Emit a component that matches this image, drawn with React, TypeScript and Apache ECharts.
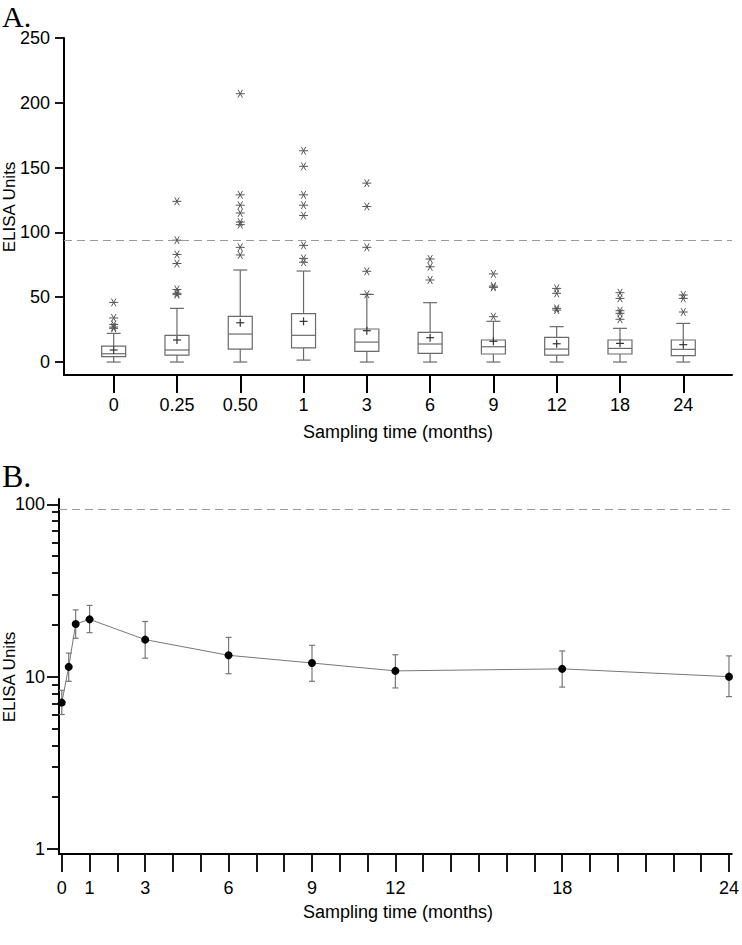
import React, { useEffect, useRef } from 'react';
import * as echarts from 'echarts';

// ---------- Panel A: box plots ----------
const categoriesA = ['0', '0.25', '0.50', '1', '3', '6', '9', '12', '18', '24'];
const whiskerLowA = [0, 0, 0, 1.5, 0, 0, 0, 0, 0, 0];
const q1A = [4.1, 5.4, 10, 11, 8.2, 6.7, 6.2, 5.4, 6.2, 4.9];
const medianA = [6.4, 9.3, 21.6, 20.6, 15.4, 13.9, 11.8, 10, 10.5, 9.8];
const q3A = [12.3, 20.6, 35.2, 37.3, 25.5, 22.9, 17, 19, 17, 17];
const whiskerHighA = [22.1, 41.4, 71, 70.2, 52.2, 45.8, 31.4, 27.3, 26, 29.8];
const meanA = [9.3, 17, 30.3, 31.4, 24.2, 18.8, 16, 14.1, 14.4, 13.4];
const outliersA = [
  [46, 34, 29, 27, 26],
  [124, 94, 83, 76, 56, 53, 52],
  [207, 129, 121, 115, 108, 106, 88.5, 82.6],
  [163, 151, 129, 121, 113, 90, 80, 77],
  [138, 120, 88.5, 70, 52.2],
  [79.5, 73.5, 63.3],
  [68, 58.6, 57.6, 35],
  [56.8, 53, 41.4, 40.1],
  [53.5, 49.1, 39.6, 37.6, 33],
  [51.7, 49.1, 38.6],
];
const yTicksA = [0, 50, 100, 150, 200, 250];

// ---------- Panel B: geometric means with CI ----------
const monthsB = [0, 0.25, 0.5, 1, 3, 6, 9, 12, 18, 24];
const gmB = [7.07, 11.4, 20.2, 21.5, 16.4, 13.3, 12.0, 10.8, 11.1, 10.0];
const upperB = [8.33, 13.7, 24.4, 25.9, 20.9, 16.9, 15.2, 13.4, 14.1, 13.2];
const lowerB = [6.03, 9.4, 16.7, 18.0, 12.8, 10.4, 9.4, 8.6, 8.7, 7.66];
const xLabelsB = [0, 1, 3, 6, 9, 12, 18, 24];
const xTicksB = [0, 1, 2, 3, 4, 5, 6, 7, 8, 9, 10, 11, 12, 13, 14, 15, 16, 17, 18, 19, 20, 21, 22, 23, 24];
const yMajorB = [1, 10, 100];
const yMinorB = [2, 3, 4, 5, 6, 7, 8, 9, 20, 30, 40, 50, 60, 70, 80, 90];

const threshold = 94;

const FONT = 'Liberation Sans, Arial, sans-serif';
const SERIF = 'Liberation Serif, Times New Roman, serif';

function buildOption(): any {
  const boxData = categoriesA.map((_, i) => [
    i, whiskerLowA[i], q1A[i], medianA[i], q3A[i], whiskerHighA[i], meanA[i],
  ]);
  const outlierData: number[][] = [];
  outliersA.forEach((arr, i) => arr.forEach((v) => outlierData.push([i, v])));
  const errData = monthsB.map((m, i) => [m, lowerB[i], upperB[i]]);
  const lineData = monthsB.map((m, i) => [m, gmB[i]]);

  const boxStroke = '#6a6a6a';

  const dashed = {
    silent: true,
    symbol: 'none',
    label: { show: false },
    lineStyle: { type: [8, 5], color: '#9a9a9a', width: 1.2 },
    data: [{ yAxis: threshold }],
  };

  return {
    animation: false,
    backgroundColor: '#fff',
    grid: [
      { left: 64, top: 38, width: 668, height: 337 },
      { left: 59, top: 499, width: 677.7, height: 355 },
    ],
    xAxis: [
      {
        gridIndex: 0,
        type: 'value',
        min: -0.785,
        max: 9.77,
        axisLine: { show: true, onZero: false, lineStyle: { color: '#000', width: 2 } },
        axisTick: { show: true, customValues: categoriesA.map((_, i) => i), length: 18, lineStyle: { color: '#000', width: 2 } },
        axisLabel: {
          customValues: categoriesA.map((_, i) => i),
          formatter: (v: number) => categoriesA[Math.round(v)],
          margin: 21,
          fontSize: 18,
          color: '#000',
          fontFamily: FONT,
        },
        splitLine: { show: false },
      },
      {
        gridIndex: 1,
        type: 'value',
        min: -0.1,
        max: 24.1,
        axisLine: { show: true, onZero: false, lineStyle: { color: '#000', width: 2 } },
        axisTick: { show: true, customValues: xTicksB, length: 18, lineStyle: { color: '#000', width: 1.8 } },
        axisLabel: {
          customValues: xLabelsB,
          margin: 25,
          fontSize: 18,
          color: '#000',
          fontFamily: FONT,
        },
        splitLine: { show: false },
      },
    ],
    yAxis: [
      {
        gridIndex: 0,
        type: 'value',
        min: -10,
        max: 250,
        axisLine: { show: true, onZero: false, lineStyle: { color: '#000', width: 2 } },
        axisTick: { show: true, customValues: yTicksA, length: 9, lineStyle: { color: '#000', width: 1.8 } },
        axisLabel: { customValues: yTicksA, margin: 14, fontSize: 18, color: '#000', fontFamily: FONT },
        splitLine: { show: false },
      },
      {
        gridIndex: 1,
        type: 'log',
        logBase: 10,
        min: 0.936,
        max: 107.3,
        position: 'left',
        axisLine: { show: true, onZero: false, lineStyle: { color: '#000', width: 2 } },
        axisTick: { show: true, customValues: yMajorB, length: 12, lineStyle: { color: '#000', width: 1.8 } },
        axisLabel: { customValues: yMajorB, margin: 14, fontSize: 18, color: '#000', fontFamily: FONT },
        splitLine: { show: false },
        minorTick: { show: false },
      },
      {
        gridIndex: 1,
        type: 'log',
        logBase: 10,
        min: 0.936,
        max: 107.3,
        position: 'left',
        axisLine: { show: false, onZero: false },
        axisTick: { show: true, customValues: yMinorB, length: 7, lineStyle: { color: '#000', width: 1.8 } },
        axisLabel: { show: false },
        splitLine: { show: false },
      },
    ],
    series: [
      {
        type: 'custom',
        name: 'box',
        xAxisIndex: 0,
        yAxisIndex: 0,
        data: boxData,
        markLine: dashed,
        renderItem: (params: any, api: any) => {
          const x = api.value(0);
          const pLo = api.coord([x, api.value(1)]);
          const pQ1 = api.coord([x, api.value(2)]);
          const pMed = api.coord([x, api.value(3)]);
          const pQ3 = api.coord([x, api.value(4)]);
          const pHi = api.coord([x, api.value(5)]);
          const pMean = api.coord([x, api.value(6)]);
          const cx = pLo[0];
          const bw = 12;
          const cw = 7;
          const mw = 4;
          const ls = { stroke: boxStroke, lineWidth: 1.2, fill: null };
          return {
            type: 'group',
            children: [
              { type: 'line', shape: { x1: cx, y1: pLo[1], x2: cx, y2: pQ1[1] }, style: ls },
              { type: 'line', shape: { x1: cx, y1: pQ3[1], x2: cx, y2: pHi[1] }, style: ls },
              { type: 'line', shape: { x1: cx - cw, y1: pLo[1], x2: cx + cw, y2: pLo[1] }, style: ls },
              { type: 'line', shape: { x1: cx - cw, y1: pHi[1], x2: cx + cw, y2: pHi[1] }, style: ls },
              {
                type: 'rect',
                shape: { x: cx - bw, y: pQ3[1], width: 2 * bw, height: pQ1[1] - pQ3[1] },
                style: { stroke: boxStroke, lineWidth: 1.2, fill: '#fff' },
              },
              { type: 'line', shape: { x1: cx - bw, y1: pMed[1], x2: cx + bw, y2: pMed[1] }, style: ls },
              { type: 'line', shape: { x1: cx - mw, y1: pMean[1], x2: cx + mw, y2: pMean[1] }, style: { stroke: '#333', lineWidth: 1.2 } },
              { type: 'line', shape: { x1: cx, y1: pMean[1] - mw, x2: cx, y2: pMean[1] + mw }, style: { stroke: '#333', lineWidth: 1.2 } },
            ],
          };
        },
      },
      {
        type: 'custom',
        name: 'outliers',
        xAxisIndex: 0,
        yAxisIndex: 0,
        data: outlierData,
        renderItem: (params: any, api: any) => {
          const p = api.coord([api.value(0), api.value(1)]);
          const r = 4.5;
          const a = Math.PI / 3;
          const dx = r * Math.cos(a);
          const dy = r * Math.sin(a);
          const st = { stroke: '#555', lineWidth: 1 };
          return {
            type: 'group',
            children: [
              { type: 'line', shape: { x1: p[0] - r, y1: p[1], x2: p[0] + r, y2: p[1] }, style: st },
              { type: 'line', shape: { x1: p[0] - dx, y1: p[1] - dy, x2: p[0] + dx, y2: p[1] + dy }, style: st },
              { type: 'line', shape: { x1: p[0] - dx, y1: p[1] + dy, x2: p[0] + dx, y2: p[1] - dy }, style: st },
            ],
          };
        },
      },
      {
        type: 'custom',
        name: 'ci',
        xAxisIndex: 1,
        yAxisIndex: 1,
        data: errData,
        renderItem: (params: any, api: any) => {
          const x = api.value(0);
          const lo = api.coord([x, api.value(1)]);
          const hi = api.coord([x, api.value(2)]);
          const c = 3;
          const st = { stroke: '#777', lineWidth: 1.2 };
          return {
            type: 'group',
            children: [
              { type: 'line', shape: { x1: lo[0], y1: lo[1], x2: hi[0], y2: hi[1] }, style: st },
              { type: 'line', shape: { x1: lo[0] - c, y1: lo[1], x2: lo[0] + c, y2: lo[1] }, style: st },
              { type: 'line', shape: { x1: hi[0] - c, y1: hi[1], x2: hi[0] + c, y2: hi[1] }, style: st },
            ],
          };
        },
      },
      {
        type: 'line',
        name: 'gm',
        xAxisIndex: 1,
        yAxisIndex: 1,
        data: lineData,
        symbol: 'circle',
        symbolSize: 8,
        itemStyle: { color: '#000' },
        lineStyle: { color: '#777', width: 1 },
        markLine: dashed,
        z: 5,
      },
    ],
    graphic: [
      { type: 'text', left: 2, top: 1, style: { text: 'A.', font: `30px ${SERIF}`, fill: '#000' } },
      { type: 'text', left: 2, top: 460, style: { text: 'B.', font: `32px ${SERIF}`, fill: '#000' } },
      {
        type: 'text', x: 9, y: 207, rotation: Math.PI / 2,
        style: { text: 'ELISA Units', font: `17px ${FONT}`, fill: '#000', textAlign: 'center', textVerticalAlign: 'middle' },
      },
      {
        type: 'text', x: 9, y: 677, rotation: Math.PI / 2,
        style: { text: 'ELISA Units', font: `17px ${FONT}`, fill: '#000', textAlign: 'center', textVerticalAlign: 'middle' },
      },
      {
        type: 'text', x: 398, y: 432,
        style: { text: 'Sampling time (months)', font: `18px ${FONT}`, fill: '#000', textAlign: 'center', textVerticalAlign: 'middle' },
      },
      {
        type: 'text', x: 398, y: 912,
        style: { text: 'Sampling time (months)', font: `18px ${FONT}`, fill: '#000', textAlign: 'center', textVerticalAlign: 'middle' },
      },
    ],
  };
}

export default function App() {
  const ref = useRef<HTMLDivElement>(null);
  useEffect(() => {
    document.body.style.margin = '0';
    const chart = echarts.init(ref.current!, null, { renderer: 'svg' });
    chart.setOption(buildOption());
    return () => chart.dispose();
  }, []);
  return <div ref={ref} style={{ width: 742, height: 945 }} />;
}
